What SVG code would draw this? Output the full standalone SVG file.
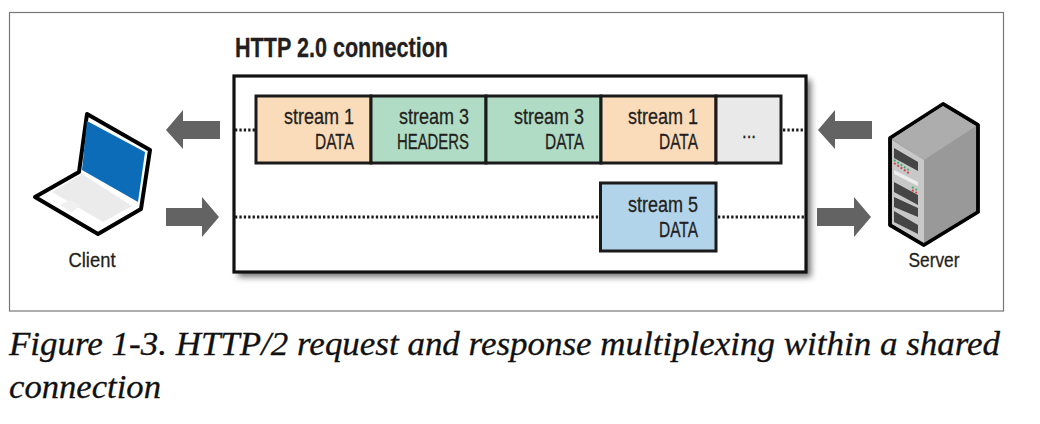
<svg xmlns="http://www.w3.org/2000/svg" width="1040" height="424" viewBox="0 0 1040 424">
<defs>
<filter id="sh" x="-5%" y="-8%" width="112%" height="118%"><feGaussianBlur stdDeviation="3"/></filter>
<filter id="soft" x="-5%" y="-5%" width="110%" height="110%"><feGaussianBlur stdDeviation="0.45"/></filter>
</defs>
<style>
.lbl{font-family:"Liberation Sans",Arial,sans-serif;fill:#231f20;stroke:#231f20;stroke-width:.3}
.s{font-size:21.500px;text-anchor:end}
.box{stroke:#1a1a1a;stroke-width:3}
.dot{stroke:#1a1a1a;stroke-width:2.800;stroke-dasharray:2.300 2.100;fill:none}
.arr{fill:#636363}
.cap{font-family:"Liberation Serif","DejaVu Serif",serif;font-style:italic;font-size:33px;fill:#111;stroke:#111;stroke-width:.3}
</style>
<rect width="1040" height="424" fill="#fff"/>
<rect id="frame" x="9.500" y="12.500" width="994" height="298.500" fill="#fff" stroke="#777" stroke-width="1.200"/>
<g id="connection">
<rect x="238" y="80" width="573" height="197" fill="#444" opacity=".75" filter="url(#sh)"/>
<rect x="234" y="76" width="572" height="196" fill="#fff" stroke="#111" stroke-width="3.200"/>
<text class="lbl" x="235" y="57" font-size="27" font-weight="700" textLength="213" lengthAdjust="spacingAndGlyphs">HTTP 2.0 connection</text>
</g>
<g id="connectors">
<path class="dot" d="M235 130H255"/>
<path class="dot" d="M783 130H805"/>
<path class="dot" d="M235 217H600"/>
<path class="dot" d="M718 217H805"/>
<path class="arr" d="M166 130 L183 110V121H220V139H183V149Z"/>
<path class="arr" d="M219 217 L202 197V208H166V226H202V237Z"/>
<path class="arr" d="M818 130 L835 110V121H872V139H835V149Z"/>
<path class="arr" d="M871 217 L854 197V208H817V226H854V237Z"/>
</g>
<g id="s1"><rect class="box" x="256" y="96" width="115" height="67" fill="#fbdcba"/>
<text class="lbl s" x="354" y="124" textLength="70" lengthAdjust="spacingAndGlyphs">stream 1</text><text class="lbl s" x="354" y="149" textLength="39" lengthAdjust="spacingAndGlyphs">DATA</text></g>
<g id="s2"><rect class="box" x="371" y="96" width="115" height="67" fill="#b0dcc6"/>
<text class="lbl s" x="469" y="124" textLength="70" lengthAdjust="spacingAndGlyphs">stream 3</text><text class="lbl s" x="469" y="149" textLength="72" lengthAdjust="spacingAndGlyphs">HEADERS</text></g>
<g id="s3"><rect class="box" x="486" y="96" width="115" height="67" fill="#b0dcc6"/>
<text class="lbl s" x="584" y="124" textLength="70" lengthAdjust="spacingAndGlyphs">stream 3</text><text class="lbl s" x="584" y="149" textLength="39" lengthAdjust="spacingAndGlyphs">DATA</text></g>
<g id="s4"><rect class="box" x="601" y="96" width="115" height="67" fill="#fbdcba"/>
<text class="lbl s" x="698" y="124" textLength="70" lengthAdjust="spacingAndGlyphs">stream 1</text><text class="lbl s" x="698" y="149" textLength="39" lengthAdjust="spacingAndGlyphs">DATA</text></g>
<g id="s5"><rect class="box" x="716" y="96" width="65" height="67" fill="#e9e9e9"/>
<text class="lbl" x="749" y="138" font-size="21" text-anchor="middle" textLength="14" lengthAdjust="spacingAndGlyphs">...</text></g>
<g id="s6"><rect class="box" x="600.500" y="183" width="115.500" height="68" fill="#b2d4eb"/>
<text class="lbl s" x="698" y="212" textLength="70" lengthAdjust="spacingAndGlyphs">stream 5</text><text class="lbl s" x="698" y="237" textLength="39" lengthAdjust="spacingAndGlyphs">DATA</text></g>
<g id="client">
<g filter="url(#soft)">
<path d="M87 114L150 150L141 209L98 234L35 197L79 172Z" fill="#fff" stroke="#000" stroke-width="4" stroke-linejoin="round"/>
<path d="M87 121L145 152L138 202L82 170Z" fill="#0a6cb8"/>
<path d="M82 174L132 206L103 222L52 192Z" fill="#ebebeb"/>
<path d="M60 205L70 200L81 206L71 212Z" fill="#f0f0f0"/>
</g>
<text class="lbl" x="92" y="267" font-size="21" text-anchor="middle" textLength="47" lengthAdjust="spacingAndGlyphs">Client</text>
</g>
<g id="server">
<g filter="url(#soft)">
<path d="M890 138L943 104L978 125V212L924 245L890 225Z" fill="#999" stroke="#000" stroke-width="3.800" stroke-linejoin="round"/>
<path d="M892 139L943 106L976 126L924 160Z" fill="#adadad"/>
<path d="M892 140L924 160V243L892 224Z" fill="#c8c8c8"/>
<path d="M894 148L918 162V171L894 158Z M894 182L918 195V205L894 192Z M894 197L918 208V217L894 207Z M894 211L918 225V234L894 222Z" fill="#444"/>
<path d="M894 170L918 182V186L894 174Z" fill="#ececec"/>
<path d="M894 160L910 171M912 187L917 190" stroke="#3fae6a" stroke-width="2" stroke-dasharray="2 2"/>
<path d="M894 163L910 174M912 190L917 193" stroke="#d9434e" stroke-width="2" stroke-dasharray="2 2"/>
</g>
<text class="lbl" x="934" y="267" font-size="21" text-anchor="middle" textLength="51" lengthAdjust="spacingAndGlyphs">Server</text>
</g>
<g id="caption">
<text class="cap" x="9" y="355" textLength="991" lengthAdjust="spacingAndGlyphs">Figure 1-3. HTTP/2 request and response multiplexing within a shared</text>
<text class="cap" x="9" y="398" textLength="152" lengthAdjust="spacingAndGlyphs">connection</text>
</g>
</svg>
